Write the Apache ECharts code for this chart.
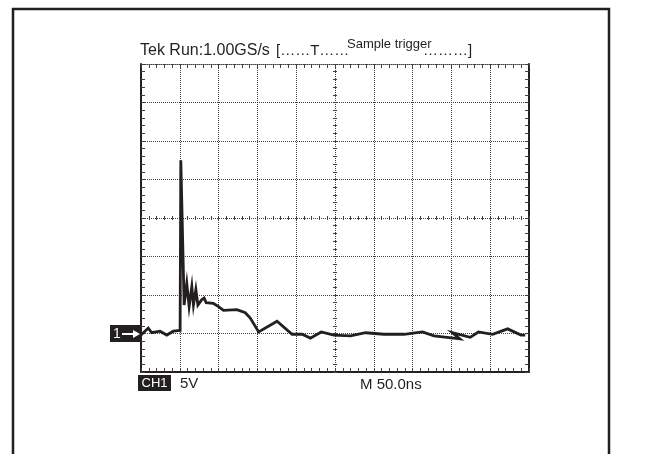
<!DOCTYPE html>
<html>
<head>
<meta charset="utf-8">
<script src="https://cdn.jsdelivr.net/npm/echarts@6/dist/echarts.min.js"></script>
<style>html,body{margin:0;padding:0;background:#fff;}#c{width:664px;height:454px;}</style>
</head>
<body>
<div id="c"></div>
<script>
// time relative to screen centre (ns), 50 ns / division
var times = [-250, -240.6, -236.2, -225.5, -216.8, -208.3, -199.6, -198.7, -194.4, -191.0, -188.0, -184.5, -182.4, -179.3, -176.7, -171.6, -168.6, -166.0, -156.6, -150.1, -143.7, -126.4, -115.6, -109.2, -98.4, -74.7, -55.3, -42.4, -31.7, -17.8, -1.5, 20.0, 39.4, 63.0, 88.9, 112.7, 127.6, 160.9, 151.4, 174.2, 184.8, 203.1, 222.5, 239.7, 245.2];
// CH1 voltage (V), 5 V / division
var volts = [-15.2, -14.3, -14.9, -14.7, -15.2, -14.7, -14.6, 7.5, -11.3, -8.5, -11.5, -8.9, -11.3, -9.3, -11.3, -10.6, -10.4, -11.0, -11.1, -11.5, -12.0, -11.9, -12.3, -13.0, -14.8, -13.4, -15.1, -15.1, -15.6, -14.8, -15.2, -15.3, -14.9, -15.1, -15.1, -14.8, -15.3, -15.7, -14.9, -15.5, -14.8, -15.1, -14.4, -15.2, -15.2];
var headerText = "Tek Run:1.00GS/s";
var bracketText = "[\u2026\u2026T\u2026\u2026";
var triggerText = "Sample trigger";
var bracketEnd = "\u2026\u2026\u2026]";
var channelLabel = "CH1";
var scaleLabel = "5V";
var timebaseLabel = "M 50.0ns";
var markerLabel = "1";

var ink = '#231f20';
var gridCol = '#404040';

function xAx(extra) {
  var base = {
    type: 'value', min: -250, max: 250, interval: 50,
    axisLabel: {show: false},
    splitLine: {show: false},
    axisTick: {show: true, inside: true, length: 4, lineStyle: {color: gridCol, width: 1}},
    minorTick: {show: true, splitNumber: 5, length: 4, lineStyle: {color: gridCol, width: 1}}
  };
  return Object.assign(base, extra);
}
function yAx(extra) {
  var base = {
    type: 'value', min: -20, max: 20, interval: 5,
    axisLabel: {show: false},
    splitLine: {show: false},
    axisTick: {show: true, inside: true, length: 4, lineStyle: {color: gridCol, width: 1}},
    minorTick: {show: true, splitNumber: 5, length: 4, lineStyle: {color: gridCol, width: 1}}
  };
  return Object.assign(base, extra);
}

var chart = echarts.init(document.getElementById('c'), null, {renderer: 'canvas'});
var data = times.map(function (t, i) { return [t, volts[i]]; });

chart.setOption({
  animation: false,
  backgroundColor: '#fff',
  grid: {left: 141, top: 64, right: 135, bottom: 82, containLabel: false},
  xAxis: [
    xAx({position: 'bottom', axisLine: {onZero: false, lineStyle: {color: ink, width: 2}},
         splitLine: {show: true, lineStyle: {color: gridCol, type: 'dotted', width: 1}}}),
    xAx({position: 'top', axisLine: {onZero: false, lineStyle: {color: gridCol, type: 'dotted', width: 1}}}),
    xAx({position: 'bottom', axisLine: {show: false, onZero: true, onZeroAxisIndex: 0},
         axisTick: {show: true, inside: true, length: 2, lineStyle: {color: gridCol}},
         minorTick: {show: true, splitNumber: 5, length: 2, lineStyle: {color: gridCol}}}),
    xAx({position: 'bottom', axisLine: {show: false, onZero: true, onZeroAxisIndex: 0},
         axisTick: {show: true, inside: false, length: 2, lineStyle: {color: gridCol}},
         minorTick: {show: true, splitNumber: 5, length: 2, lineStyle: {color: gridCol}}})
  ],
  yAxis: [
    yAx({position: 'left', axisLine: {onZero: false, lineStyle: {color: ink, width: 2}},
         splitLine: {show: true, lineStyle: {color: gridCol, type: 'dotted', width: 1}}}),
    yAx({position: 'right', axisLine: {onZero: false, lineStyle: {color: ink, width: 2}}}),
    yAx({position: 'left', axisLine: {show: false, onZero: true, onZeroAxisIndex: 0},
         axisTick: {show: true, inside: true, length: 2, lineStyle: {color: gridCol}},
         minorTick: {show: true, splitNumber: 5, length: 2, lineStyle: {color: gridCol}}}),
    yAx({position: 'left', axisLine: {show: false, onZero: true, onZeroAxisIndex: 0},
         axisTick: {show: true, inside: false, length: 2, lineStyle: {color: gridCol}},
         minorTick: {show: true, splitNumber: 5, length: 2, lineStyle: {color: gridCol}}})
  ],
  series: [{
    type: 'line',
    xAxisIndex: 0, yAxisIndex: 0,
    data: data,
    showSymbol: false,
    symbol: 'none',
    clip: false,
    lineStyle: {color: ink, width: 2.8, join: 'miter'},
    z: 10
  }],
  graphic: [
    {type: 'rect', shape: {x: 13, y: 9, width: 596, height: 470}, style: {fill: 'none', stroke: ink, lineWidth: 2.5}, silent: true},
    {type: 'text', x: 140, y: 51, style: {text: headerText, font: '16px "Liberation Sans", Arial, sans-serif', fill: ink, verticalAlign: 'middle'}},
    {type: 'text', x: 276, y: 51, style: {text: bracketText, font: '15px "Liberation Sans", Arial, sans-serif', fill: ink, verticalAlign: 'middle'}},
    {type: 'text', x: 347, y: 44, style: {text: triggerText, font: '13px "Liberation Sans", Arial, sans-serif', fill: ink, verticalAlign: 'middle'}},
    {type: 'text', x: 423, y: 51, style: {text: bracketEnd, font: '15px "Liberation Sans", Arial, sans-serif', fill: ink, verticalAlign: 'middle'}},
    {type: 'rect', shape: {x: 110, y: 325, width: 31, height: 17}, style: {fill: ink}},
    {type: 'text', x: 113, y: 334, style: {text: markerLabel, font: '14px "Liberation Sans", Arial, sans-serif', fill: '#fff', verticalAlign: 'middle'}},
    {type: 'line', shape: {x1: 122, y1: 334, x2: 134, y2: 334}, style: {stroke: '#fff', lineWidth: 2}},
    {type: 'polygon', shape: {points: [[133, 330], [140, 334], [133, 338]]}, style: {fill: '#fff'}},
    {type: 'rect', shape: {x: 138, y: 375, width: 33, height: 16}, style: {fill: ink}},
    {type: 'text', x: 154.5, y: 383.5, style: {text: channelLabel, font: '13px "Liberation Sans", Arial, sans-serif', fill: '#fff', align: 'center', verticalAlign: 'middle'}},
    {type: 'text', x: 180, y: 384, style: {text: scaleLabel, font: '15px "Liberation Sans", Arial, sans-serif', fill: ink, verticalAlign: 'middle'}},
    {type: 'text', x: 360, y: 385, style: {text: timebaseLabel, font: '15px "Liberation Sans", Arial, sans-serif', fill: ink, verticalAlign: 'middle'}}
  ]
});
</script>
</body>
</html>
